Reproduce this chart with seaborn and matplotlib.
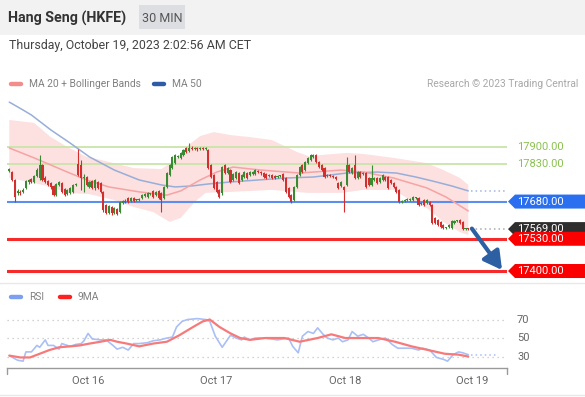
import matplotlib
matplotlib.use("Agg")
import matplotlib.pyplot as plt
import matplotlib.transforms as mtrans
from matplotlib.patches import Polygon, Rectangle
from matplotlib.lines import Line2D
import numpy as np
import seaborn as sns

# ---------------- data ----------------
opens = [17803, 17799, 17767, 17715, 17719, 17719, 17735, 17759, 17771, 17759,
         17783, 17775, 17827, 17775, 17763, 17755, 17743, 17706, 17747, 17755,
         17731, 17710, 17715, 17719, 17747, 17831, 17827, 17775, 17779, 17739,
         17763, 17735, 17759, 17755, 17719, 17666, 17634, 17658, 17634, 17650,
         17638, 17674, 17682, 17694, 17682, 17694, 17686, 17686, 17694, 17702,
         17698, 17710, 17723, 17706, 17723, 17715, 17694, 17739, 17787, 17815,
         17835, 17860, 17856, 17868, 17896, 17884, 17896, 17892, 17896, 17892,
         17896, 17892, 17888, 17827, 17787, 17759, 17727, 17715, 17827, 17795,
         17807, 17767, 17775, 17795, 17767, 17779, 17795, 17787, 17791, 17791,
         17803, 17799, 17795, 17791, 17783, 17787, 17783, 17779, 17783, 17791,
         17775, 17735, 17706, 17686, 17739, 17787, 17827, 17807, 17835, 17848,
         17860, 17868, 17840, 17827, 17815, 17783, 17787, 17783, 17779, 17755,
         17743, 17739, 17747, 17827, 17795, 17827, 17775, 17799, 17791, 17795,
         17775, 17747, 17767, 17775, 17759, 17767, 17779, 17779, 17767, 17755,
         17739, 17727, 17678, 17682, 17686, 17686, 17686, 17694, 17694, 17670,
         17686, 17674, 17678, 17666, 17614, 17606, 17598, 17585, 17573, 17577,
         17573, 17594, 17602, 17606, 17598, 17569, 17571]
closes = [17811, 17767, 17698, 17723, 17715, 17727, 17763, 17767, 17759, 17783,
          17807, 17827, 17767, 17759, 17747, 17739, 17706, 17751, 17759, 17719,
          17706, 17727, 17735, 17747, 17751, 17787, 17775, 17779, 17747, 17759,
          17735, 17767, 17735, 17719, 17646, 17634, 17662, 17634, 17654, 17630,
          17678, 17682, 17678, 17678, 17694, 17682, 17688, 17690, 17706, 17710,
          17715, 17712, 17698, 17719, 17694, 17686, 17739, 17795, 17827, 17860,
          17868, 17862, 17876, 17888, 17880, 17896, 17892, 17896, 17892, 17896,
          17892, 17896, 17815, 17779, 17735, 17719, 17698, 17819, 17795, 17815,
          17759, 17791, 17799, 17755, 17787, 17799, 17775, 17799, 17799, 17807,
          17799, 17795, 17779, 17775, 17787, 17775, 17775, 17783, 17785, 17767,
          17719, 17698, 17678, 17739, 17787, 17819, 17799, 17840, 17856, 17868,
          17868, 17840, 17819, 17807, 17779, 17787, 17783, 17779, 17771, 17735,
          17759, 17727, 17827, 17799, 17815, 17775, 17799, 17779, 17795, 17739,
          17747, 17775, 17777, 17755, 17775, 17787, 17767, 17735, 17755, 17739,
          17719, 17678, 17682, 17686, 17688, 17690, 17698, 17696, 17666, 17674,
          17666, 17686, 17666, 17594, 17594, 17585, 17577, 17573, 17575, 17585,
          17602, 17602, 17604, 17594, 17569, 17571, 17569]
highs = [17815, 17803, 17771, 17731, 17727, 17735, 17767, 17771, 17775, 17787,
         17815, 17868, 17831, 17783, 17767, 17759, 17747, 17755, 17763, 17759,
         17735, 17731, 17739, 17751, 17755, 17892, 17848, 17791, 17783, 17763,
         17767, 17771, 17763, 17759, 17723, 17670, 17666, 17662, 17658, 17654,
         17682, 17686, 17690, 17698, 17698, 17698, 17690, 17694, 17710, 17715,
         17719, 17715, 17727, 17723, 17727, 17719, 17743, 17799, 17831, 17864,
         17872, 17868, 17880, 17892, 17900, 17916, 17904, 17900, 17900, 17900,
         17900, 17900, 17892, 17831, 17791, 17763, 17731, 17823, 17831, 17819,
         17811, 17795, 17803, 17799, 17791, 17803, 17799, 17803, 17803, 17811,
         17807, 17803, 17799, 17795, 17791, 17791, 17787, 17787, 17787, 17795,
         17779, 17739, 17710, 17743, 17791, 17823, 17831, 17844, 17860, 17872,
         17872, 17872, 17844, 17831, 17819, 17791, 17791, 17787, 17783, 17759,
         17763, 17743, 17860, 17831, 17819, 17868, 17803, 17803, 17799, 17799,
         17779, 17827, 17779, 17779, 17779, 17791, 17783, 17783, 17771, 17759,
         17743, 17731, 17686, 17690, 17694, 17694, 17702, 17698, 17698, 17678,
         17690, 17690, 17682, 17670, 17618, 17610, 17602, 17590, 17577, 17590,
         17606, 17606, 17606, 17610, 17602, 17573, 17573]
lows = [17799, 17763, 17678, 17706, 17706, 17715, 17731, 17751, 17755, 17755,
        17779, 17767, 17763, 17755, 17743, 17731, 17702, 17702, 17743, 17715,
        17702, 17706, 17710, 17715, 17743, 17783, 17727, 17719, 17743, 17735,
        17731, 17727, 17731, 17715, 17638, 17630, 17630, 17626, 17630, 17626,
        17634, 17670, 17674, 17674, 17678, 17678, 17682, 17682, 17690, 17698,
        17694, 17706, 17694, 17702, 17690, 17638, 17690, 17735, 17783, 17811,
        17831, 17856, 17852, 17864, 17876, 17880, 17888, 17888, 17884, 17888,
        17888, 17888, 17811, 17775, 17731, 17715, 17694, 17706, 17791, 17791,
        17755, 17763, 17771, 17751, 17763, 17775, 17771, 17783, 17787, 17787,
        17795, 17787, 17775, 17771, 17779, 17771, 17771, 17775, 17779, 17763,
        17715, 17694, 17674, 17682, 17735, 17783, 17795, 17803, 17831, 17844,
        17856, 17835, 17815, 17803, 17775, 17779, 17779, 17775, 17767, 17731,
        17739, 17638, 17743, 17795, 17791, 17771, 17771, 17775, 17787, 17735,
        17743, 17743, 17763, 17751, 17755, 17763, 17763, 17731, 17751, 17735,
        17715, 17674, 17674, 17678, 17682, 17682, 17682, 17690, 17662, 17666,
        17662, 17670, 17662, 17590, 17590, 17581, 17573, 17569, 17569, 17573,
        17569, 17590, 17598, 17590, 17565, 17565, 17565]

ma20_idx = [0, 9, 21, 28, 36, 47, 57, 62, 69, 75, 81, 91, 105, 120, 128, 139, 151, 158, 166]
ma20_val = [17896, 17856, 17799, 17767, 17739, 17719, 17706, 17723, 17767, 17799,
            17819, 17807, 17795, 17807, 17799, 17775, 17735, 17698, 17642]
ma50_idx = [0, 5, 8, 15, 22, 29, 38, 47, 55, 60, 66, 72, 80, 90, 100, 110, 122, 133, 140, 147, 153, 160, 166]
ma50_val = [18081, 18049, 18029, 17969, 17916, 17860, 17807, 17767, 17747, 17739, 17743, 17751,
            17759, 17767, 17775, 17779, 17795, 17799, 17795, 17779, 17763, 17743, 17723]
bb_up_idx = [0, 9, 15, 21, 28, 33, 45, 55, 60, 64, 69, 74, 80, 87, 95, 104, 109, 113, 122, 128, 139, 151, 157, 163, 166]
bb_up_val = [18009, 17997, 17940, 17900, 17860, 17848, 17815, 17811, 17848, 17900, 17944, 17960,
             17948, 17940, 17928, 17880, 17860, 17868, 17876, 17872, 17856, 17835, 17807, 17775, 17747]
bb_lo_idx = [0, 9, 15, 21, 29, 38, 45, 52, 58, 62, 67, 71, 80, 95, 108, 120, 128, 139, 145, 151, 157, 163, 166]
bb_lo_val = [17775, 17755, 17739, 17715, 17710, 17686, 17658, 17638, 17598, 17614, 17678, 17715,
             17719, 17727, 17715, 17715, 17727, 17727, 17686, 17654, 17598, 17557, 17545]

rsi_idx = [0, 3, 5, 6, 8, 10, 11, 13, 14, 16, 18, 19, 22, 24, 26, 27, 28.5, 30, 33, 35,
           37.5, 39, 41, 43, 45, 47, 50, 52, 54.5, 57, 59, 60.5, 62.5, 64.5, 68, 71, 72.5, 74.5, 77, 80,
           82, 84, 85, 87, 89, 92.5, 97, 101, 102.5, 104.5, 106, 108, 110, 111.5, 113.5, 115, 117, 119, 120.5, 122.5,
           124, 126, 128, 130, 131.5, 133.5, 136, 138.5, 140.5, 143, 145.5, 148, 149.5, 152, 154.5, 157, 158.5, 160.5,
           162.5, 164, 166]
rsi_val = [31, 26, 25, 35, 35, 42, 40, 48, 42, 42, 38, 44, 41, 43, 44, 47, 55, 49, 48, 48,
           42, 38, 40, 37, 44, 44, 45, 47, 48, 50, 51, 62, 68, 70, 71, 70, 68, 52, 40, 53,
           50, 48, 51, 48, 50, 50, 48, 50, 41, 34, 52, 57, 55, 61, 54, 50, 48, 50, 46, 48,
           57, 52, 54, 50, 46, 48, 50, 43, 39, 39, 39, 37, 39, 37, 29, 27, 25, 32, 35, 34, 32]
rsi_ma_idx = [0, 4, 7.5, 11, 14.5, 18, 22, 25.5, 29, 33, 36.5, 39, 42.5, 47, 52, 57, 61.5, 66.5, 70,
              72.5, 76, 80, 83.5, 87, 92.5, 99.5, 105, 111.5, 116.5, 121.5, 127.5, 133.5, 139.5, 145.5,
              151.5, 157.5, 162.5, 166]
rsi_ma_val = [31, 29, 29, 33, 37, 40, 41, 42, 44, 46, 48, 46, 44, 41, 44, 46, 53, 62, 68,
              70, 62, 55, 50, 48, 50, 50, 46, 50, 54, 50, 50, 50, 46, 41, 37, 33, 32, 30]

green_levels = [17900, 17830]
blue_level = 17680
red_levels = [17530, 17400]
target_level = 17400
rsi_levels = [70, 50, 30]
day_labels = ["Oct 16", "Oct 17", "Oct 18", "Oct 19"]
day_pos = [28.5, 74.8, 121.4, 167.3]

# ---------------- figure ----------------
sns.set_theme(style="white")
plt.rcParams['font.family'] = ['Roboto', 'DejaVu Sans']

W, H = 585, 397
fig = plt.figure(figsize=(W / 100, H / 100), dpi=100)
fig.patch.set_facecolor('white')


def fx(px):
    return px / W


def fy(py):
    return 1 - py / H


# header
fig.add_artist(Rectangle((0, fy(35)), 1, 35 / H, transform=fig.transFigure,
                         facecolor='#f2f2f2', lw=0, zorder=0))
fig.add_artist(Rectangle((fx(139), fy(29)), 46 / W, 24 / H, transform=fig.transFigure,
                         facecolor='#dcdee2', lw=0, zorder=1))
fig.text(fx(8), fy(18), "Hang Seng (HKFE)", fontsize=10.3, fontweight='bold',
         color='#333333', va='center', ha='left')
fig.text(fx(162), fy(18), "30 MIN", fontsize=9, color='#555555', va='center', ha='center')
fig.text(fx(9), fy(46), "Thursday, October 19, 2023 2:02:56 AM CET", fontsize=8.9,
         color='#444444', va='center', ha='left')

# legends
def leg(x0, y, color, label):
    fig.add_artist(Line2D([fx(x0), fx(x0 + 10)], [fy(y), fy(y)], transform=fig.transFigure,
                          color=color, lw=3.2, solid_capstyle='round'))
    fig.text(fx(x0 + 18), fy(y), label, fontsize=7.4, color='#808080', va='center', ha='left')


leg(11, 84, '#f58c8c', "MA 20 + Bollinger Bands")
leg(154, 84, '#2d5ca6', "MA 50")
fig.text(fx(578), fy(84), "Research \u00a9 2023 Trading Central", fontsize=7.4,
         color='#a8a8a8', va='center', ha='right')
leg(11, 297, '#7d9ff0', "RSI")
leg(60, 297, '#ff2020', "9MA")

fig.add_artist(Line2D([0, 1], [fy(283), fy(283)], transform=fig.transFigure, color='#e8e8e8', lw=1))
fig.add_artist(Line2D([0, 1], [fy(395), fy(395)], transform=fig.transFigure, color='#e8e8e8', lw=1))

# ---------------- main price panel ----------------
xlo, xhi = -0.83, 180.0
ax = fig.add_axes([fx(7), fy(282), 500 / W, 182 / H])
ax.set_xlim(xlo, xhi)
ymin, ymax = 17355.7, 18089.5
ax.set_ylim(ymin, ymax)
ax.set_axis_off()
p2v = (ymax - ymin) / 182.0

ax.fill(np.concatenate([bb_up_idx, bb_lo_idx[::-1]]),
        np.concatenate([bb_up_val, bb_lo_val[::-1]]),
        color='#fde0e0', lw=0, zorder=1)

for lv in green_levels:
    ax.axhline(lv, color='#c9e4a9', lw=1.3, zorder=2)
ax.axhline(blue_level, color='#5b8ef0', lw=1.5, zorder=2)
for lv in red_levels:
    ax.axhline(lv, color='#f52a2a', lw=2.2, zorder=2)

sns.lineplot(x=ma50_idx, y=ma50_val, ax=ax, color='#98aed8', lw=1.1, zorder=3)
sns.lineplot(x=ma20_idx, y=ma20_val, ax=ax, color='#f6a3a3', lw=1.1, zorder=3)

idx = np.arange(len(closes))
o = np.array(opens)
c = np.array(closes)
cols = np.where(c >= o, '#3a8a34', '#d32f2f')
ax.vlines(idx, lows, highs, colors=cols, lw=0.8, zorder=4)
ax.bar(idx, np.maximum(np.abs(c - o), 3), bottom=np.minimum(o, c), width=0.75,
       color=cols, lw=0, zorder=5)

# dotted extensions
ax.plot([idx[-1] + 1, xhi - 0.5], [ma50_val[-1]] * 2, color='#9fb5e2', lw=1.1,
        ls=(0, (1, 2)), zorder=3)
ax.plot([idx[-1] + 1, xhi - 0.5], [closes[-1]] * 2, color='#aaaaaa', lw=1.1,
        ls=(0, (1, 2)), zorder=3)

trans = mtrans.blended_transform_factory(ax.transAxes, ax.transData)


def tag(y, text, color):
    h = 7 * p2v
    pts = [(1.002, y), (1.016, y + h), (1.16, y + h), (1.16, y - h), (1.016, y - h)]
    ax.add_patch(Polygon(pts, closed=True, transform=trans, facecolor=color, lw=0,
                         clip_on=False, zorder=6))
    ax.text(1.02, y, text, transform=trans, color='white', fontsize=8, va='center',
            ha='left', clip_on=False, zorder=7)


for lv in green_levels:
    ax.text(1.02, lv, f"{lv:.2f}", transform=trans, color='#8cc152', fontsize=8,
            va='center', ha='left', clip_on=False)
tag(blue_level, f"{blue_level:.2f}", '#2a6ff0')
tag(closes[-1], f"{closes[-1]:.2f}", '#2e2e2e')
for lv in red_levels:
    tag(lv, f"{lv:.2f}", '#fa0000')

ax.annotate('', xy=(idx[-1] + 12.2, target_level + 4),
            xytext=(idx[-1] + 1.3, closes[-1] + 2),
            arrowprops=dict(arrowstyle='-|>,head_length=0.9,head_width=0.5',
                            color='#2d5fa3', lw=3.0, shrinkA=0, shrinkB=0),
            annotation_clip=False, zorder=8)

# ---------------- RSI panel ----------------
ax2 = fig.add_axes([fx(7), fy(368), 500 / W, 63 / H])
ax2.set_xlim(xlo, xhi)
ax2.set_ylim(17.6, 85.7)
ax2.patch.set_alpha(0)
for s in ['left', 'right', 'top']:
    ax2.spines[s].set_visible(False)
ax2.spines['bottom'].set_color('#9a9a9a')
ax2.spines['bottom'].set_linewidth(1)
ax2.set_yticks([])
for r in rsi_levels:
    ax2.axhline(r, xmin=0, xmax=0.996, color='#c4c4c4', lw=0.9, ls=(0, (1, 3)), zorder=1)
    ax2.text(1.02, r, str(r), transform=mtrans.blended_transform_factory(ax2.transAxes, ax2.transData),
             color='#666666', fontsize=8, va='center', ha='left', clip_on=False)

sns.lineplot(x=rsi_idx, y=rsi_val, ax=ax2, color='#a9bff5', lw=1.2, zorder=2)
sns.lineplot(x=rsi_ma_idx, y=rsi_ma_val, ax=ax2, color='#f67a7a', lw=1.6, zorder=3)
ax2.plot([rsi_idx[-1] + 1, xhi - 4], [rsi_val[-1]] * 2, color='#a9bff5', lw=1.1,
         ls=(0, (1, 2)), zorder=2)

for xe in [0, 1]:
    ax2.plot([xe, xe], [0, -0.09], transform=ax2.transAxes, color='#9a9a9a', lw=1,
             clip_on=False)

ax2.set_xticks(day_pos)
ax2.set_xticklabels(day_labels)
ax2.tick_params(axis='x', length=0, pad=5.5, labelcolor='#666666', labelsize=8)
ax2.set_xlabel('')
ax2.set_ylabel('')

fig.savefig('out.png', dpi=100, facecolor='white')
